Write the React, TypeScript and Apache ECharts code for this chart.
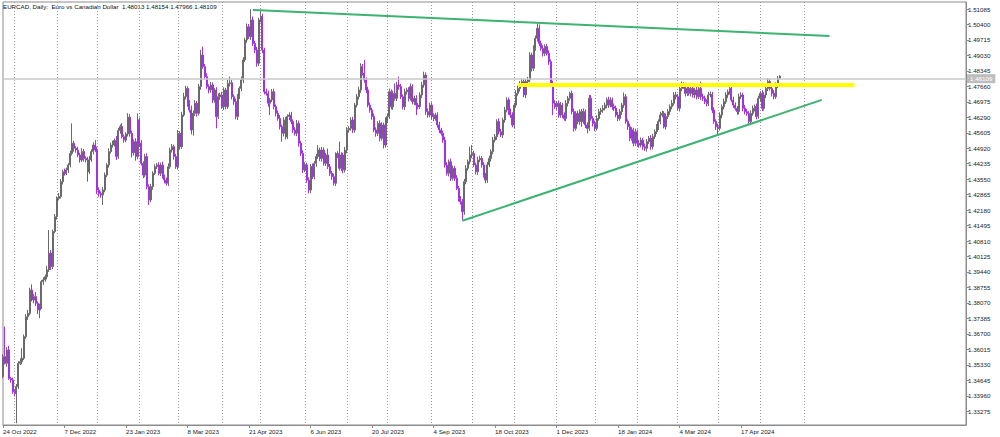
import React, { useEffect, useRef } from "react";
import * as echarts from "echarts";

const TITLE = "EURCAD, Daily:  Euro vs Canadian Dollar  1.48013 1.48154 1.47966 1.48109";
const FIRST_DAY = "2022-10-24";
const MISSING_DAYS = ["2022-12-26", "2023-12-25", "2024-01-01"];
const TOTAL_SLOTS = 502;
const LABEL_EVERY = 32;
const LAST_GRID_SLOT = 421;
const MONTHS = ["Jan", "Feb", "Mar", "Apr", "May", "Jun", "Jul", "Aug", "Sep", "Oct", "Nov", "Dec"];

const FIRST_OPEN = 1.3481;

const CLOSE_OCT22_JAN23 = [
  1.3569, 1.354, 1.3599, 1.3473, 1.3466, 1.3414, 1.3407, 1.3436, 1.354, 1.3547,
  1.3562, 1.3658, 1.3746, 1.3761, 1.3864, 1.382, 1.3835, 1.3805, 1.3776, 1.379,
  1.3901, 1.3909, 1.3923, 1.3953, 1.4027, 1.3968, 1.4123, 1.4189, 1.427, 1.4278,
  1.4344, 1.4388, 1.4381, 1.4396, 1.4418, 1.4469, 1.4514, 1.4492, 1.4484, 1.4462,
  1.444, 1.4477, 1.4447, 1.444, 1.4388, 1.444, 1.4477, 1.4506, 1.4484, 1.4307,
  1.4292, 1.4285, 1.4307, 1.4373, 1.4418, 1.4477, 1.4506, 1.4514, 1.4526, 1.4455,
  1.457, 1.4588, 1.4543, 1.4528, 1.4555, 1.4629, 1.4558, 1.4472, 1.4521,
];
const CLOSE_FEB23_MAY23 = [
  1.4455, 1.4617, 1.4514, 1.4425, 1.4373, 1.4455, 1.4322, 1.4263, 1.4322, 1.4381,
  1.441, 1.4418, 1.4381, 1.4418, 1.4366, 1.4351, 1.4337, 1.441, 1.4484, 1.4499,
  1.4455, 1.441, 1.4558, 1.4499, 1.4639, 1.472, 1.4757, 1.4691, 1.4661, 1.4573,
  1.4647, 1.4691, 1.4647, 1.4765, 1.4905, 1.4853, 1.4809, 1.4765, 1.475, 1.4772,
  1.4706, 1.475, 1.4632, 1.472, 1.4728, 1.4676, 1.475, 1.4676, 1.4779, 1.4782,
  1.472, 1.4698, 1.4632, 1.472, 1.4757, 1.4794, 1.4883, 1.4971, 1.503, 1.4986,
  1.506, 1.4956, 1.4927, 1.4868, 1.506, 1.5075, 1.4927,
];
const CLOSE_MAY23_AUG23 = [
  1.4742, 1.4735, 1.4691, 1.4706, 1.4742, 1.4676, 1.4647, 1.4624, 1.4587, 1.4558,
  1.4617, 1.4543, 1.4632, 1.4639, 1.461, 1.4573, 1.4558, 1.4602, 1.4514, 1.4469,
  1.4396, 1.4418, 1.4351, 1.4307, 1.441, 1.4366, 1.4425, 1.4455, 1.4484, 1.4447,
  1.4484, 1.4425, 1.4462, 1.441, 1.4381, 1.4366, 1.4337, 1.4462, 1.4469, 1.4403,
  1.4462, 1.4396, 1.4484, 1.4573, 1.458, 1.4617, 1.4573, 1.4683, 1.472, 1.475,
  1.4853, 1.4824, 1.4794, 1.475, 1.4683, 1.4661, 1.4632, 1.4573, 1.4558, 1.4602,
  1.4536, 1.4595, 1.4506, 1.4617, 1.4632, 1.4742, 1.4676,
];
const CLOSE_AUG23_NOV23 = [
  1.4735, 1.4713, 1.4772, 1.4765, 1.472, 1.4676, 1.4742, 1.475, 1.4713, 1.4765,
  1.4698, 1.4713, 1.4683, 1.4676, 1.4728, 1.4772, 1.4816, 1.4654, 1.4639, 1.4683,
  1.4632, 1.4624, 1.4639, 1.4595, 1.4573, 1.4558, 1.4528, 1.4418, 1.4381, 1.4432,
  1.4359, 1.4403, 1.4359, 1.4314, 1.427, 1.4255, 1.4211, 1.4344, 1.4403, 1.4432,
  1.4462, 1.4469, 1.4418, 1.4388, 1.444, 1.4447, 1.4418, 1.4373, 1.4351, 1.4418,
  1.4447, 1.4477, 1.4528, 1.4543, 1.461, 1.4565, 1.4551, 1.4617, 1.4661, 1.4706,
  1.4654, 1.4639, 1.4595, 1.4683, 1.4735, 1.4757, 1.4779, 1.4787,
];
const CLOSE_NOV23_FEB24 = [
  1.4728, 1.4787, 1.4794, 1.4905, 1.4846, 1.4934, 1.4979, 1.5023, 1.4956, 1.4934,
  1.4912, 1.4942, 1.4912, 1.4875, 1.4779, 1.4691, 1.4676, 1.4691, 1.4639, 1.4683,
  1.4639, 1.4624, 1.4691, 1.4713, 1.4735, 1.4654, 1.458, 1.4646, 1.461, 1.4654,
  1.461, 1.4654, 1.4595, 1.458, 1.4713, 1.4624, 1.4602, 1.458, 1.4624, 1.4654,
  1.4661, 1.4669, 1.4683, 1.4706, 1.4683, 1.4706, 1.4676, 1.4669, 1.4639, 1.4624,
  1.4654, 1.4683, 1.472, 1.461, 1.4587, 1.4536, 1.4573, 1.4514, 1.4565, 1.4514,
  1.4506, 1.4528, 1.4499, 1.4492, 1.4521, 1.4536, 1.4499, 1.4543,
];
const CLOSE_FEB24_MAY24 = [
  1.4565, 1.4587, 1.461, 1.4639, 1.4646, 1.4587, 1.4632, 1.4654, 1.4676, 1.4691,
  1.4728, 1.472, 1.4669, 1.4757, 1.4765, 1.4772, 1.4735, 1.4757, 1.4735, 1.4757,
  1.4728, 1.475, 1.472, 1.4757, 1.472, 1.4713, 1.4698, 1.4691, 1.4728, 1.4731,
  1.4661, 1.461, 1.4587, 1.458, 1.4639, 1.4676, 1.4698, 1.4728, 1.4742, 1.4757,
  1.4706, 1.4683, 1.4669, 1.4654, 1.472, 1.4728, 1.4669, 1.4654, 1.4646, 1.461,
  1.4646, 1.4669, 1.4676, 1.4632, 1.4713, 1.4735, 1.4669, 1.4728, 1.4757, 1.4787,
  1.4757, 1.4735, 1.472, 1.4772, 1.48013, 1.48109,
];

const UPPER_WICK_PIPS = [
  10, 133, 12, 18, 6, 10, 8, 12, 9, 15, 44, 9, 12, 15, 10, 25, 12, 20, 8, 14,
  8, 12, 10, 18, 103, 14, 9, 12, 8, 16, 12, 9, 14, 10, 8, 12, 88, 11, 9, 14,
  10, 15, 12, 9, 14, 18, 10, 12, 22, 15, 12, 9, 14, 11, 8, 15, 10, 12, 9, 20,
  12, 9, 15, 10, 8, 18, 14, 12, 10, 15, 29, 10, 14, 9, 12, 15, 10, 12, 9, 11,
  8, 12, 10, 14, 9, 11, 15, 10, 12, 9, 12, 15, 10, 14, 18, 12, 9, 14, 20, 12,
  14, 10, 12, 22, 37, 12, 15, 10, 14, 12, 9, 12, 15, 10, 14, 12, 9, 15, 27, 12,
  10, 14, 12, 9, 15, 12, 10, 14, 12, 48, 15, 12, 14, 10, 22, 12, 10, 14, 12, 9,
  12, 14, 10, 12, 15, 9, 12, 14, 10, 12, 14, 10, 12, 15, 12, 10, 14, 12, 10, 12,
  12, 14, 10, 12, 22, 10, 14, 12, 10, 29, 12, 10, 14, 12, 10, 52, 12, 10, 14, 12,
  10, 12, 14, 10, 12, 14, 15, 12, 59, 12, 14, 12, 10, 14, 12, 10, 14, 12, 10, 12,
  12, 14, 10, 12, 44, 14, 37, 12, 10, 14, 10, 12, 14, 10, 12, 14, 10, 12, 14, 15,
  12, 14, 10, 12, 14, 10, 12, 14, 10, 12, 14, 12, 10, 14, 12, 10, 14, 12, 10, 12,
  12, 14, 10, 37, 37, 12, 10, 14, 12, 10, 12, 10, 14, 12, 10, 14, 12, 10, 14, 12,
  10, 14, 12, 10, 14, 12, 10, 14, 12, 10, 14, 12, 10, 14, 12, 10, 14, 12, 22, 17,
  12, 14, 10, 12, 14, 10, 12, 14, 10, 12, 14, 10, 12, 14, 10, 7, 12, 14, 10, 12,
  10, 12, 14, 10, 12, 15, 14, 10, 12, 14, 12, 10, 14, 12, 10, 14, 12, 10, 14, 12,
  14, 12, 10, 19, 12, 10, 14, 12, 10, 14, 10, 14, 12, 10, 14, 12, 10, 14, 12, 10,
  12, 10, 14, 12, 10, 14, 12, 10, 14, 12, 14, 12, 10, 22, 12, 10, 14, 12, 10, 14,
  10, 14, 12, 30, 14, 12, 10, 14, 12, 10, 12, 10, 14, 12, 10, 14, 12, 10, 15, 12,
  14, 12, 10, 14, 12, 10, 14, 12, 10, 14, 12, 10, 14, 12, 10, 14, 12, 10, 14, 12,
  10, 14, 12, 10, 4.5,
];
const LOWER_WICK_PIPS = [
  8, 6, 15, 7, 12, 9, 14, 133, 10, 8, 12, 8, 10, 14, 9, 6, 15, 12, 18, 37,
  10, 14, 8, 12, 9, 15, 11, 7, 13, 9, 9, 12, 10, 8, 14, 11, 9, 15, 12, 10,
  12, 9, 14, 11, 44, 10, 8, 12, 9, 18, 15, 12, 44, 10, 9, 12, 8, 11, 14, 15,
  10, 14, 8, 12, 9, 11, 15, 20, 12, 18, 12, 15, 10, 14, 9, 12, 22, 10, 14, 8,
  10, 9, 12, 8, 14, 10, 12, 9, 11, 14, 9, 12, 14, 10, 8, 12, 15, 11, 20, 25,
  12, 15, 10, 14, 9, 12, 10, 15, 12, 14, 12, 52, 10, 14, 9, 15, 12, 10, 14, 12,
  14, 12, 15, 10, 12, 14, 9, 12, 10, 14, 12, 14, 15, 12, 10, 14, 12, 10, 15, 52,
  10, 12, 14, 10, 12, 37, 14, 12, 10, 15, 12, 14, 10, 12, 15, 12, 14, 10, 12, 15,
  14, 10, 12, 15, 10, 12, 14, 10, 12, 10, 12, 14, 10, 12, 14, 10, 12, 15, 12, 14,
  12, 10, 14, 12, 10, 12, 14, 10, 12, 14, 10, 12, 14, 10, 15, 12, 14, 10, 15, 12,
  14, 10, 12, 14, 10, 12, 14, 10, 12, 14, 12, 14, 10, 12, 14, 44, 12, 10, 14, 12,
  14, 12, 10, 14, 12, 10, 12, 14, 10, 12, 12, 10, 14, 12, 10, 12, 7, 14, 12, 37,
  14, 12, 10, 12, 14, 10, 12, 14, 10, 12, 10, 14, 12, 10, 14, 12, 10, 14, 12, 10,
  14, 12, 10, 14, 12, 10, 14, 12, 10, 14, 12, 10, 14, 12, 10, 14, 12, 10, 14, 12,
  10, 14, 12, 10, 14, 12, 52, 10, 14, 12, 12, 14, 10, 12, 14, 10, 12, 14, 10, 12,
  14, 23, 10, 14, 22, 12, 10, 14, 12, 10, 10, 14, 12, 10, 14, 12, 10, 14, 12, 10,
  12, 10, 14, 12, 10, 14, 12, 10, 14, 12, 14, 12, 10, 14, 12, 15, 10, 14, 12, 10,
  10, 14, 12, 10, 7, 12, 10, 14, 12, 10, 12, 10, 14, 12, 10, 14, 12, 10, 14, 12,
  14, 12, 10, 14, 12, 10, 14, 12, 10, 14, 10, 14, 29, 10, 14, 12, 10, 14, 12, 10,
  12, 10, 14, 12, 10, 14, 12, 10, 15, 12, 10, 14, 12, 10, 14, 12, 10, 14, 12, 10,
  14, 12, 10, 14, 4.7,
];

const PRICE_TICKS = [
  1.33275, 1.3396, 1.34645, 1.3533, 1.36015, 1.367, 1.37385, 1.3807, 1.38755,
  1.3944, 1.40125, 1.4081, 1.41495, 1.4218, 1.42865, 1.4355, 1.44235, 1.4492,
  1.45605, 1.4629, 1.46975, 1.4766, 1.48345, 1.4903, 1.49715, 1.504, 1.51085,
];
const Y_MIN = 1.32665;
const Y_MAX = 1.51395;
const LAST_PRICE = 1.48109;

const TRENDLINES = [
  { from: ["2023-04-25", 1.5104], to: ["2024-06-20", 1.4989], color: "#3cb371", width: 2 },
  { from: ["2023-09-25", 1.4171], to: ["2024-06-14", 1.4706], color: "#3cb371", width: 2 },
  { from: ["2023-11-03", 1.4774], to: ["2024-07-09", 1.4774], color: "#ffff00", width: 4 },
];

const FONT = "Liberation Sans, Arial, sans-serif";

function buildDays(): string[] {
  const out: string[] = [];
  const d = new Date(FIRST_DAY + "T00:00:00Z");
  while (out.length < TOTAL_SLOTS) {
    const wd = d.getUTCDay();
    const iso = d.toISOString().slice(0, 10);
    if (wd !== 0 && wd !== 6 && !MISSING_DAYS.includes(iso)) out.push(iso);
    d.setUTCDate(d.getUTCDate() + 1);
  }
  return out;
}

function fmtDay(v: string): string {
  const [y, m, d] = v.split("-");
  return `${Number(d)} ${MONTHS[Number(m) - 1]} ${y}`;
}

export default function App() {
  const ref = useRef<HTMLDivElement>(null);
  useEffect(() => {
    document.body.style.margin = "0";
    if (!ref.current) return;
    const chart = echarts.init(ref.current, undefined, { renderer: "svg" });
    const days = buildDays();
    const closes = [
      ...CLOSE_OCT22_JAN23,
      ...CLOSE_FEB23_MAY23,
      ...CLOSE_MAY23_AUG23,
      ...CLOSE_AUG23_NOV23,
      ...CLOSE_NOV23_FEB24,
      ...CLOSE_FEB24_MAY24,
    ];
    const lastIdx = closes.length - 1;
    const candles = closes.map((c, i) => {
      const o = i === 0 ? FIRST_OPEN : closes[i - 1];
      const hi = Math.max(o, c) + UPPER_WICK_PIPS[i] / 10000;
      const lo = Math.min(o, c) - LOWER_WICK_PIPS[i] / 10000;
      return [o, c, lo, hi];
    });

    const labelFilter = (idx: number) => idx % LABEL_EVERY === 0 && idx <= lastIdx;
    const monthFilter = (idx: number) =>
      idx > 0 && idx <= LAST_GRID_SLOT && days[idx].slice(0, 7) !== days[idx - 1].slice(0, 7);

    const markData: any[] = [
      {
        yAxis: LAST_PRICE,
        lineStyle: { color: "#c8c8c8", width: 1.5, type: "solid" },
        label: {
          show: true,
          position: "end",
          distance: 1,
          formatter: LAST_PRICE.toFixed(5),
          backgroundColor: "#bdbdbd",
          color: "#ffffff",
          fontSize: 6.2,
          fontFamily: FONT,
          padding: [2, 3, 1, 3],
        },
      },
      ...TRENDLINES.map((t) => [
        { coord: t.from, lineStyle: { color: t.color, width: t.width, type: "solid" } },
        { coord: t.to, lineStyle: { color: t.color, width: t.width, type: "solid" } },
      ]),
    ];

    chart.setOption({
      animation: false,
      backgroundColor: "#ffffff",
      grid: {
        left: 2,
        right: 34,
        top: 2,
        bottom: 12,
        show: true,
        borderColor: "#8c8c8c",
        borderWidth: 1,
      },
      graphic: [
        {
          type: "text",
          left: 3,
          top: 3,
          style: { text: TITLE, fontSize: 6.2, fill: "#111", fontFamily: FONT },
        },
      ],
      xAxis: {
        type: "category",
        data: days,
        boundaryGap: false,
        axisLine: { show: true, lineStyle: { color: "#8c8c8c" } },
        axisTick: {
          show: true,
          interval: labelFilter,
          length: 3,
          lineStyle: { color: "#8c8c8c" },
        },
        axisLabel: {
          interval: labelFilter,
          formatter: fmtDay,
          align: "left",
          fontSize: 6.2,
          color: "#222",
          fontFamily: FONT,
          margin: 3,
        },
        splitLine: {
          show: true,
          interval: monthFilter,
          lineStyle: { color: "#9a9a9a", width: 1, type: [1, 2] },
        },
      },
      yAxis: {
        type: "value",
        position: "right",
        min: Y_MIN,
        max: Y_MAX,
        scale: true,
        splitLine: { show: false },
        axisLine: { show: true, lineStyle: { color: "#8c8c8c" } },
        axisTick: { show: true, length: 3, customValues: PRICE_TICKS, lineStyle: { color: "#8c8c8c" } },
        axisLabel: {
          customValues: PRICE_TICKS,
          formatter: (v: number) => v.toFixed(5),
          fontSize: 6.2,
          color: "#222",
          fontFamily: FONT,
          margin: 2,
        },
      },
      series: [
        {
          type: "candlestick",
          data: candles,
          barWidth: 1.5,
          clip: false,
          itemStyle: {
            color: "#555555",
            color0: "#9400d3",
            borderColor: "#6a6a6a",
            borderColor0: "#a333e0",
            borderWidth: 1,
          },
          markLine: {
            silent: true,
            symbol: ["none", "none"],
            label: { show: false },
            data: markData,
          },
        },
      ],
    });
    return () => chart.dispose();
  }, []);
  return <div ref={ref} style={{ width: 1000, height: 437 }} />;
}
